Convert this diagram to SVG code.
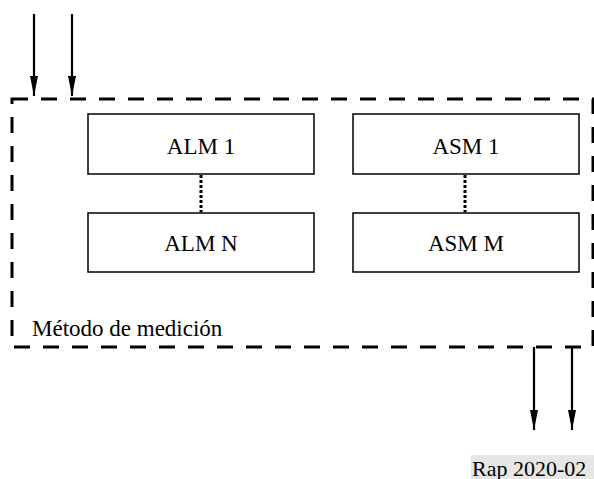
<svg xmlns="http://www.w3.org/2000/svg" width="594" height="479" viewBox="0 0 594 479">
<style>
.box{fill:#fff;stroke:#000;stroke-width:1.5}
.lbl{font-family:'Liberation Serif','Times New Roman','DejaVu Serif',serif;font-size:23px;fill:#000}
.arr{stroke:#000;stroke-width:2.2;fill:none}
.dot{stroke:#000;stroke-width:3;stroke-dasharray:3 2;fill:none}
</style>
<defs>
<marker id="ah2" viewBox="0 0 20 8" refX="20" refY="4" markerWidth="20" markerHeight="8" markerUnits="userSpaceOnUse" orient="auto">
<path d="M0,0 L20,4 L0,8 Z" fill="#000"/>
</marker>
</defs>
<g id="container">
<rect x="12" y="99" width="581" height="248" fill="none" stroke="#000" stroke-width="3" stroke-dasharray="16 13"/>
<text class="lbl" x="32" y="336" font-family="Liberation Serif, serif">Método de medición</text>
</g>
<g id="alm1"><rect class="box" x="88" y="114" width="226" height="60"/><text class="lbl" x="201" y="154" text-anchor="middle">ALM 1</text></g>
<g id="almn"><rect class="box" x="88" y="213" width="226" height="59"/><text class="lbl" x="201" y="251" text-anchor="middle">ALM N</text></g>
<g id="asm1"><rect class="box" x="353" y="114" width="226" height="60"/><text class="lbl" x="466" y="154" text-anchor="middle">ASM 1</text></g>
<g id="asmm"><rect class="box" x="353" y="213" width="226" height="59"/><text class="lbl" x="466" y="251" text-anchor="middle">ASM M</text></g>
<g id="connectors">
<line class="dot" x1="201" y1="175" x2="201" y2="212"/>
<line class="dot" x1="465" y1="175" x2="465" y2="212"/>
<line class="arr" x1="34" y1="14" x2="34" y2="96" marker-end="url(#ah2)"/>
<line class="arr" x1="72" y1="14" x2="72" y2="96" marker-end="url(#ah2)"/>
<line class="arr" x1="534" y1="347" x2="534" y2="430" marker-end="url(#ah2)"/>
<line class="arr" x1="572" y1="347" x2="572" y2="430" marker-end="url(#ah2)"/>
</g>
<g id="tag">
<rect x="471" y="455" width="123" height="24" fill="#e6e6e6"/>
<text class="lbl" x="472" y="476" style="font-size:22px">Rap 2020-02</text>
</g>
</svg>
